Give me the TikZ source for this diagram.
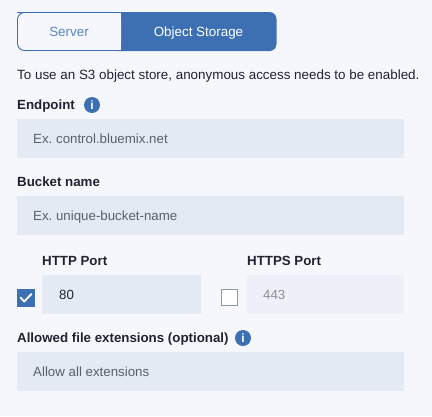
\documentclass[tikz,border=0pt]{standalone}
\usepackage{fontspec}
\setmainfont{Liberation Sans}
\frenchspacing
\definecolor{pagebg}{HTML}{F5F7FC}
\definecolor{ibmblue}{HTML}{3D70B2}
\definecolor{fieldbg}{HTML}{E4EAF4}
\definecolor{fieldoff}{HTML}{EDF0F8}
\definecolor{inktext}{HTML}{1F2430}
\definecolor{hinttext}{HTML}{5A6068}
\definecolor{offtext}{HTML}{8C9196}
\definecolor{boxgrey}{HTML}{8B9CA6}
\tikzset{
  x=1pt,y=-1pt,
  fieldbox/.style={fill=fieldbg,draw=none,minimum height=39pt,inner sep=0pt,anchor=north west},
  fieldoffbox/.style={fieldbox,fill=fieldoff},
  label/.style={font=\fontsize{13.3}{15}\selectfont\bfseries,text=inktext,anchor=base west,inner sep=0pt},
  hint/.style={font=\fontsize{13.3}{15}\selectfont,text=hinttext,anchor=base west,inner sep=0pt},
  info/.style={circle,fill=ibmblue,minimum size=16pt,inner sep=0pt,text=white,font=\fontsize{12}{12}\selectfont\bfseries},
  tick/.style={draw=white,line width=1.9pt,line cap=round,line join=round},
}
\begin{document}
\begin{tikzpicture}
\useasboundingbox (0,0) rectangle (432,416);
\fill[pagebg] (0,0) rectangle (432,416);
% toggle
\fill[ibmblue,rounded corners=7pt] (110,12) rectangle (276.5,51);
\fill[ibmblue] (121,12) rectangle (140,51);
\fill[pagebg,rounded corners=7pt] (17,12) rectangle (121,51);
\fill[pagebg] (100,12) rectangle (121,51);
\draw[ibmblue,line width=0.9pt,rounded corners=7pt] (121,12.5) -- (24,12.5) -- (17.5,12.5) -- (17.5,50.5) -- (121,50.5);
\node[font=\fontsize{13.4}{15}\selectfont,text=ibmblue!85!white,inner sep=0pt,anchor=base] (server) at (69,36.3) {Server};
\node[font=\fontsize{13.4}{15}\selectfont,text=white,inner sep=0pt,anchor=base] (storage) at (198.5,36.3) {Object Storage};
% message
\node[font=\fontsize{13.4}{15}\selectfont,text=inktext,anchor=base west,inner sep=0pt] (msg) at (17,79) {To use an S3 object store, anonymous access needs to be enabled.};
% endpoint
\node[label] (endpoint) at (17,109) {Endpoint};
\node[info] (info1) at (92,105) {i};
\node[fieldbox,minimum width=387pt] (f1) at (17,119) {};
\node[hint] (h1) at (33,143) {Ex. control.bluemix.net};
% bucket
\node[label] (bucket) at (17,186) {Bucket name};
\node[fieldbox,minimum width=387pt] (f2) at (17,196) {};
\node[hint] (h2) at (33,220) {Ex. unique-bucket-name};
% ports
\node[label] (http) at (42,265) {HTTP Port};
\node[fieldbox,minimum width=159pt] (f3) at (42,275) {};
\node[hint,text=inktext] (h3) at (59,299.3) {80};
\node[draw=ibmblue,fill=ibmblue,line width=0.8pt,minimum size=17pt,inner sep=0pt] (c1) at (25.7,297.5) {};
\draw[tick] (20.5,297.5) -- (24.2,301.5) -- (31.5,294);
\node[label] (https) at (247,265) {HTTPS Port};
\node[fieldoffbox,minimum width=157pt] (f4) at (247,275) {};
\node[hint,text=offtext] (h4) at (263,299.3) {443};
\node[draw=boxgrey,fill=white,line width=1.3pt,minimum size=16pt,inner sep=0pt] (c2) at (229.5,297.5) {};
% allowed
\node[label] (allowed) at (17,342) {Allowed file extensions (optional)};
\node[info] (info2) at (243,338) {i};
\node[fieldbox,minimum width=387pt] (f5) at (17,352) {};
\node[hint] (h5) at (33,376) {Allow all extensions};
\end{tikzpicture}
\end{document}
